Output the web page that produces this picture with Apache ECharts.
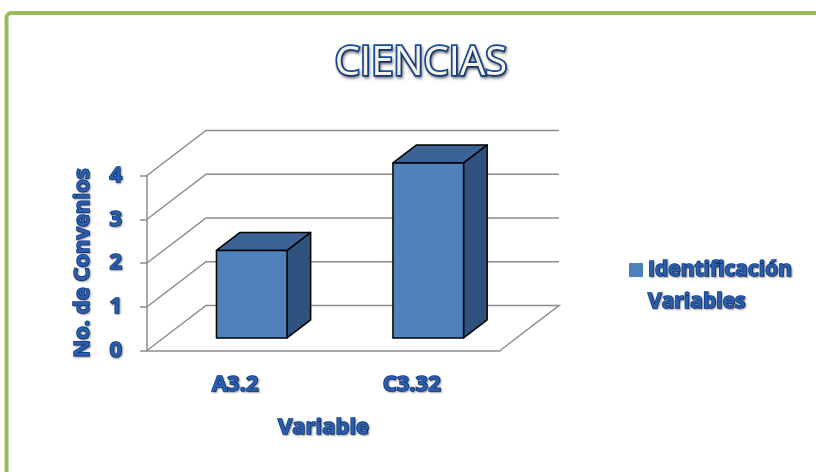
<!DOCTYPE html>
<html><head><meta charset="utf-8">
<script src="https://cdn.jsdelivr.net/npm/echarts@6/dist/echarts.min.js"></script>
<style>html,body{margin:0;padding:0;background:#fff}#c{width:816px;height:472px}</style>
</head><body><div id="c"></div>
<script>
const categories = ['A3.2', 'C3.32'];
const values = [2, 4];
const yTicks = [0, 1, 2, 3, 4];
const seriesName = 'Identificación Variables';

const DEPTH = [59, -45];           // wall depth offset (px)
const FRONT = [16.5, -12.6];       // bar front face offset
const BARD = [23.6, -18];          // bar depth
const txtBlue = '#2A5DAC', txtEdge = '#0B3A88';
const font = 'Open Sans';

const chart = echarts.init(document.getElementById('c'));
const labelStyle = (size) => ({
  fontFamily: font, fontWeight: 'bold', fontSize: size, color: txtBlue,
  textBorderColor: txtEdge, textBorderWidth: 1.5,
  textShadowColor: 'rgba(0,0,0,0.35)', textShadowBlur: 2, textShadowOffsetX: 1, textShadowOffsetY: 1
});

chart.setOption({
  backgroundColor: '#fff',
  graphic: [{
    type: 'rect', silent: true, z: 0,
    shape: { x: 6.5, y: 13, width: 1000, height: 800, r: 5 },
    style: { fill: 'none', stroke: '#9BBB59', lineWidth: 4 }
  }],
  title: {
    text: 'CIENCIAS', left: 416, top: 39, textAlign: 'center',
    textStyle: {
      fontFamily: font, fontWeight: 'normal', fontSize: 40, color: '#F5F2E6',
      textBorderColor: '#174A9A', textBorderWidth: 3.5,
      textShadowColor: 'rgba(0,0,0,0.4)', textShadowBlur: 3, textShadowOffsetX: 1, textShadowOffsetY: 2
    }
  },
  legend: {
    left: 624, top: 217, itemWidth: 14, itemHeight: 14, icon: 'rect',
    data: [seriesName],
    formatter: (n) => ' \n' + n.replace(' ', '\n'),
    textStyle: Object.assign(labelStyle(21), { lineHeight: 32 })
  },
  grid: { left: 147, right: 316, top: 175.5, bottom: 121.5 },
  xAxis: {
    type: 'category', data: categories,
    axisLine: { lineStyle: { color: '#8C8C8C', width: 1.5 } },
    axisTick: { show: false },
    axisLabel: Object.assign(labelStyle(22), { margin: 22, lineHeight: 24 }),
    name: 'Variable', nameLocation: 'middle', nameGap: 65,
    nameTextStyle: Object.assign(labelStyle(22), { lineHeight: 24 })
  },
  yAxis: {
    type: 'value', min: 0, max: 4, interval: 1,
    axisLine: { show: true, lineStyle: { color: '#8C8C8C', width: 1.5 } },
    axisTick: { show: true, length: 7, lineStyle: { color: '#8C8C8C', width: 1.5 } },
    splitLine: { show: false },
    axisLabel: Object.assign(labelStyle(22), { margin: 25 }),
    name: 'No. de Convenios', nameLocation: 'middle', nameGap: 53, nameRotate: 90,
    nameTextStyle: labelStyle(22)
  },
  series: [{
    type: 'custom', z: 1, silent: true,
    data: yTicks.map(v => [0, v]),
    encode: { x: 0, y: 1 },
    renderItem: (params, api) => {
      const cs = params.coordSys;
      const y = api.coord([0, api.value(1)])[1];
      const L = cs.x, R = cs.x + cs.width;
      let pts = [[L, y], [L + DEPTH[0], y + DEPTH[1]], [R + DEPTH[0], y + DEPTH[1]]];
      if (api.value(1) === 0) pts.push([R, y]);
      return { type: 'polyline', shape: { points: pts },
        style: { fill: 'none', stroke: '#8C8C8C', lineWidth: 1.5 } };
    }
  }, {
    type: 'custom', name: seriesName, z: 3,
    itemStyle: { color: '#4F81BD' },
    data: values.map((v, i) => [i, v]),
    encode: { x: 0, y: 1 },
    renderItem: (params, api) => {
      const i = api.value(0), v = api.value(1);
      const base = api.coord([i, 0]), top = api.coord([i, v]);
      const bw = api.size([1, 0])[0] * 0.4;
      const x0 = base[0] - bw / 2 + FRONT[0], x1 = x0 + bw;
      const yb = base[1] + FRONT[1], yt = top[1] + FRONT[1];
      const st = (f) => ({ fill: f, stroke: '#000', lineWidth: 1.5, lineJoin: 'round' });
      return { type: 'group', children: [
        { type: 'polygon', shape: { points: [[x1, yb], [x1 + BARD[0], yb + BARD[1]], [x1 + BARD[0], yt + BARD[1]], [x1, yt]] }, style: st('#30527F') },
        { type: 'polygon', shape: { points: [[x0, yt], [x1, yt], [x1 + BARD[0], yt + BARD[1]], [x0 + BARD[0], yt + BARD[1]]] }, style: st('#3C6396') },
        { type: 'rect', shape: { x: x0, y: yt, width: bw, height: yb - yt }, style: st('#4F81BD') }
      ]};
    }
  }]
});
</script></body></html>
